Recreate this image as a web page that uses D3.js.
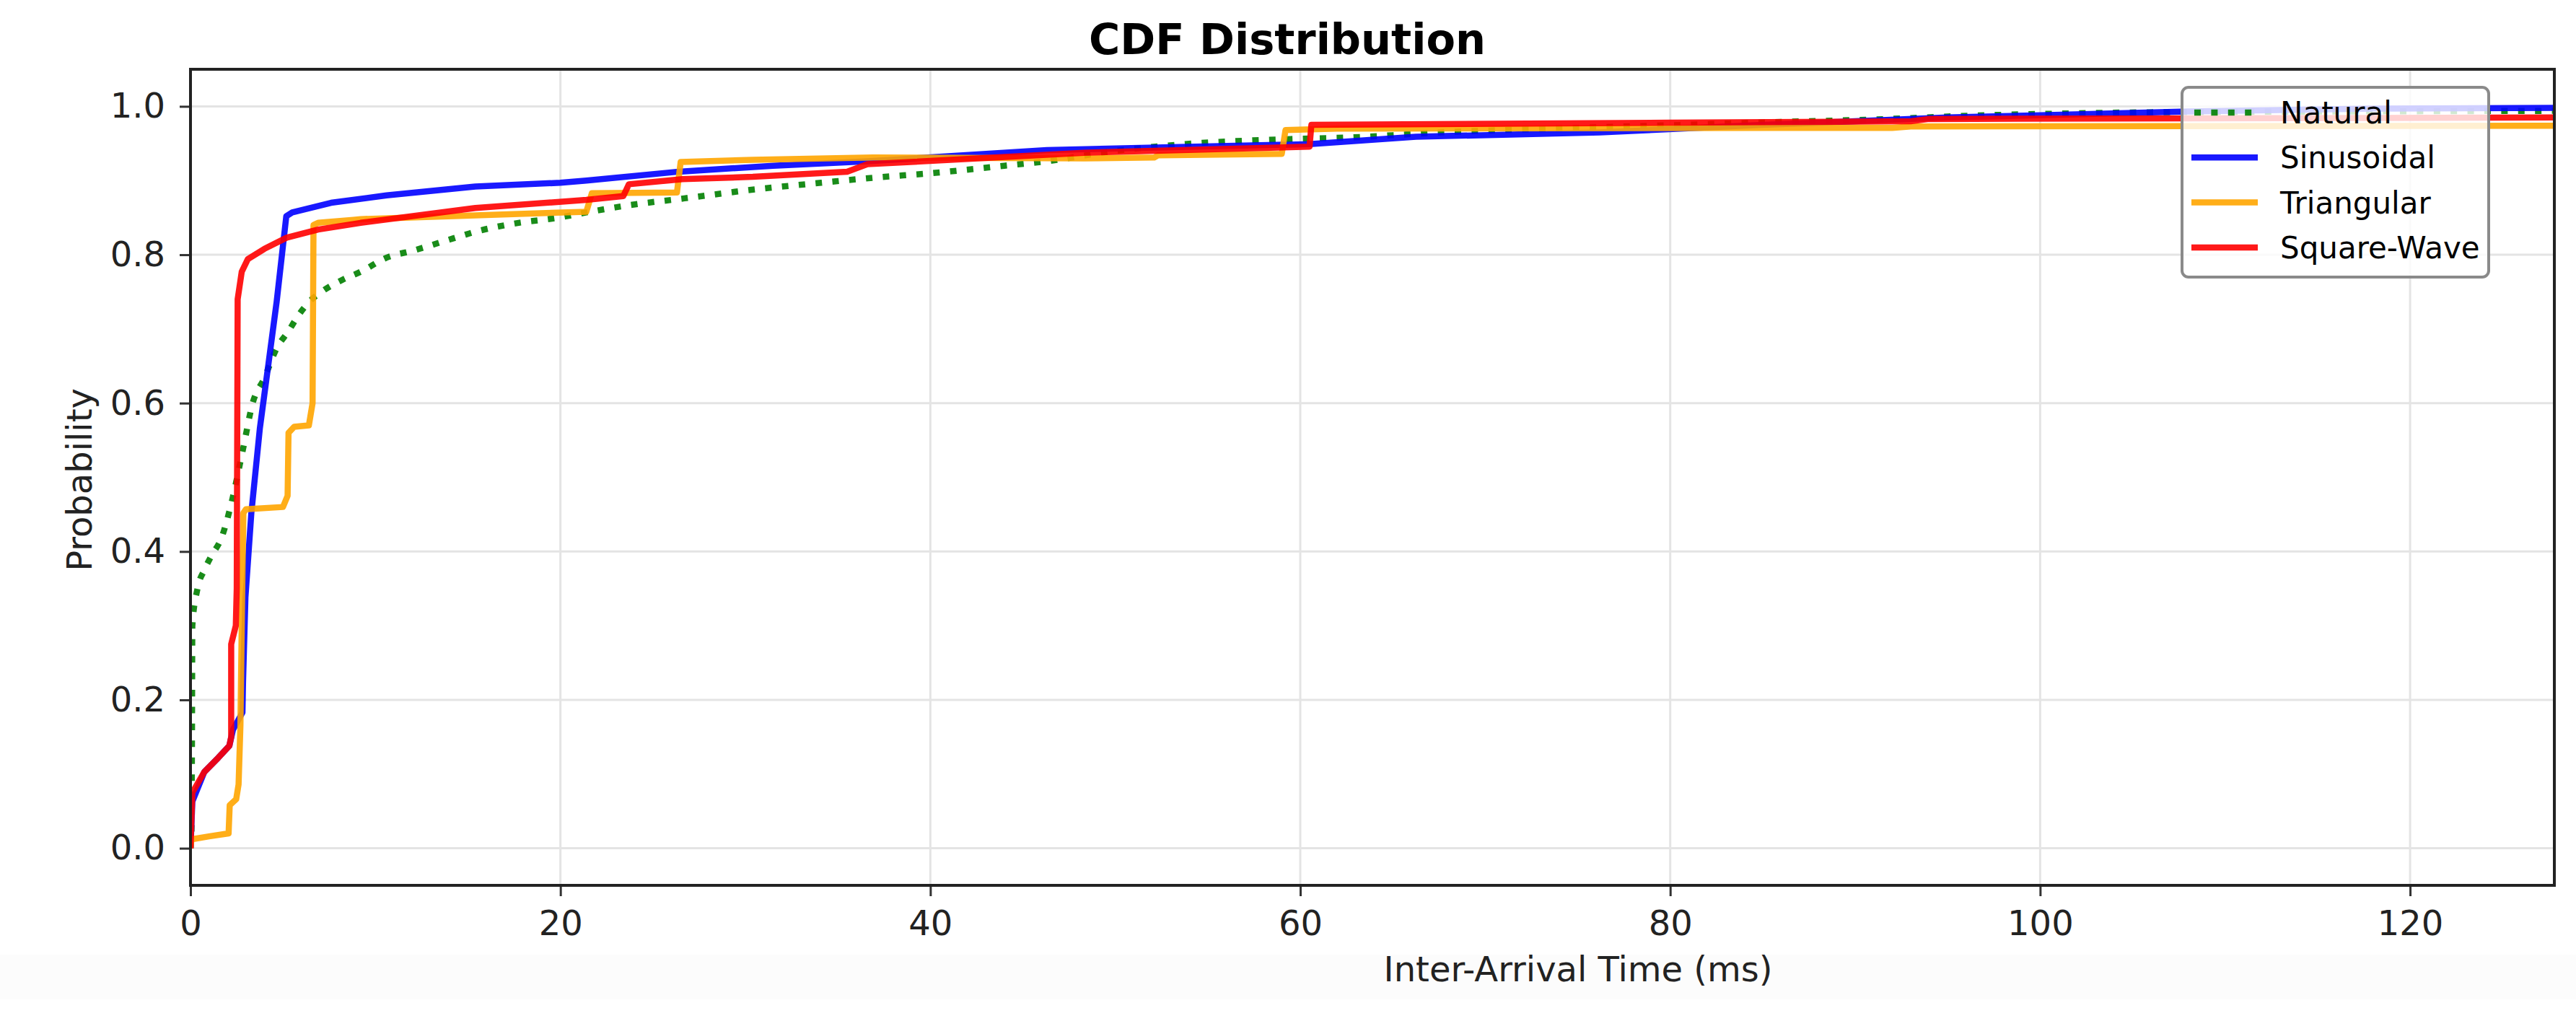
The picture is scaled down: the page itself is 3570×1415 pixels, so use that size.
<!DOCTYPE html>
<html>
<head>
<meta charset="utf-8">
<script src="https://cdn.jsdelivr.net/npm/d3@7"></script>
<style>
  body { margin: 0; background: #fff; }
  svg { display: block; font-family: "DejaVu Sans", sans-serif; }
</style>
</head>
<body>
<svg></svg>
<script>
// tick labels
var xTicks = [0, 20, 40, 60, 80, 100, 120];
var yTicks = [0.0, 0.2, 0.4, 0.6, 0.8, 1.0];

// series names, in draw order
var seriesNames = ["Natural", "Sinusoidal", "Triangular", "Square-Wave"];

// [inter-arrival time ms, cumulative probability]
var naturalPts = [[0, 0], [0.05, 0.02], [0.08, 0.15], [0.1, 0.3], [0.37, 0.349], [0.75, 0.375], [1.15, 0.395],
  [1.67, 0.418], [2.19, 0.463], [2.84, 0.538], [3.36, 0.6], [4.0, 0.634], [4.66, 0.674], [5.3, 0.697],
  [5.8, 0.717], [6.4, 0.736], [7.2, 0.752], [8.2, 0.766], [9.2, 0.777], [10.6, 0.796], [12.1, 0.806],
  [14.2, 0.822], [15.4, 0.831], [17.5, 0.842], [19.9, 0.85], [21.4, 0.857], [23.5, 0.866], [26.7, 0.876],
  [30.5, 0.888], [34.1, 0.897], [37, 0.904], [40.1, 0.91], [44, 0.92], [46.3, 0.926], [50, 0.94],
  [53.7, 0.949], [59.5, 0.956], [62.6, 0.958], [67.7, 0.965], [75, 0.971], [82, 0.976], [86, 0.979],
  [90.6, 0.982], [97, 0.988], [100.5, 0.99], [106, 0.992], [115, 0.993], [127.8, 0.994]];

var sinusoidalPts = [[0, 0], [0.1, 0.063], [0.75, 0.103], [1.5, 0.122], [2.1, 0.138], [2.3, 0.16],
  [2.81, 0.183], [2.84, 0.223], [2.97, 0.338], [3.29, 0.452], [3.75, 0.566], [4.21, 0.652], [4.66, 0.737],
  [5.18, 0.852], [5.5, 0.857], [7.6, 0.87], [10.6, 0.88], [15.4, 0.892], [20.0, 0.897], [21.4, 0.9],
  [26.4, 0.912], [31.5, 0.92], [36.6, 0.926], [46.3, 0.941], [53, 0.945], [60.5, 0.949], [66.25, 0.959],
  [76.2, 0.965], [85, 0.975], [90, 0.98], [95, 0.985], [100, 0.988], [108, 0.993], [118, 0.997], [127.8, 0.998]];

var triangularPts = [[0, 0], [0.05, 0.012], [1.0, 0.016], [2.06, 0.02], [2.12, 0.058], [2.47, 0.066],
  [2.6, 0.086], [2.7, 0.166], [2.79, 0.338], [2.86, 0.452], [3.0, 0.457], [5.0, 0.46], [5.25, 0.475],
  [5.3, 0.56], [5.6, 0.568], [6.4, 0.57], [6.6, 0.6], [6.65, 0.84], [6.9, 0.843], [8.8, 0.847], [9.2, 0.848],
  [15.4, 0.853], [21.4, 0.858], [21.7, 0.883], [26.3, 0.884], [26.5, 0.925], [30.4, 0.928], [36.9, 0.931],
  [48.3, 0.93], [52.1, 0.931], [52.3, 0.934], [59.0, 0.936], [59.2, 0.968], [62, 0.97], [85.4, 0.971],
  [92, 0.971], [93, 0.973], [127.8, 0.974]];

var squarePts = [[0, 0], [0.1, 0.075], [0.75, 0.103], [1.5, 0.122], [2.1, 0.138], [2.2, 0.15], [2.2, 0.275],
  [2.45, 0.3], [2.5, 0.35], [2.55, 0.74], [2.77, 0.777], [3.1, 0.794], [4.0, 0.808], [5.2, 0.823],
  [6.9, 0.834], [9.2, 0.843], [15.4, 0.863], [21.4, 0.874], [23.4, 0.879], [23.7, 0.895], [26.6, 0.902],
  [30.4, 0.905], [35.5, 0.912], [36.6, 0.922], [48.3, 0.9375], [60.5, 0.9457], [60.6, 0.975], [80, 0.978],
  [93, 0.98], [94, 0.983], [127.8, 0.985]];

var seriesData = [naturalPts, sinusoidalPts, triangularPts, squarePts];
var seriesColors = ["#008000", "#0000ff", "#ffa500", "#ff0000"];

var width = 3570, height = 1415;
var plotL = 264, plotR = 3540, plotT = 96, plotB = 1227;

var svg = d3.select("svg").attr("width", width).attr("height", height);

var xScale = d3.scaleLinear().domain([0, 127.8]).range([plotL, plotR]);
var yScale = d3.scaleLinear().domain([-0.05, 1.05]).range([plotB, plotT]);

// faint band at the bottom of the figure
svg.append("rect").attr("x", 0).attr("y", 1323).attr("width", width).attr("height", 62).attr("fill", "#fcfcfc");

// grid
var grid = svg.append("g");
grid.selectAll(".gx").data(xTicks).enter().append("line")
    .attr("x1", function(d) { return xScale(d); }).attr("x2", function(d) { return xScale(d); })
    .attr("y1", plotT).attr("y2", plotB)
    .attr("stroke", "#e4e4e4").attr("stroke-width", 3);
grid.selectAll(".gy").data(yTicks).enter().append("line")
    .attr("x1", plotL).attr("x2", plotR)
    .attr("y1", function(d) { return yScale(d); }).attr("y2", function(d) { return yScale(d); })
    .attr("stroke", "#e4e4e4").attr("stroke-width", 3);

svg.append("clipPath").attr("id", "plotclip").append("rect")
    .attr("x", plotL).attr("y", plotT).attr("width", plotR - plotL).attr("height", plotB - plotT);

// lines
var line = d3.line()
    .x(function(d) { return xScale(d[0]); })
    .y(function(d) { return yScale(d[1]); });
var smooth = d3.line()
    .x(function(d) { return xScale(d[0]); })
    .y(function(d) { return yScale(d[1]); })
    .curve(d3.curveMonotoneX);

var lines = svg.append("g").attr("clip-path", "url(#plotclip)");
seriesData.forEach(function(pts, i) {
    var p = lines.append("path")
        .attr("d", i == 0 ? smooth(pts) : line(pts))
        .attr("fill", "none")
        .attr("stroke", seriesColors[i])
        .attr("stroke-width", 8.5)
        .attr("stroke-opacity", 0.9)
        .attr("stroke-linejoin", "round");
    if (i == 0) p.attr("stroke-dasharray", "9,14.4");
});

// axes
var xAxis = svg.append("g")
    .attr("transform", "translate(0," + plotB + ")")
    .call(d3.axisBottom(xScale).tickValues(xTicks).tickSize(15).tickPadding(20).tickFormat(d3.format("d")));
var yAxis = svg.append("g")
    .attr("transform", "translate(" + plotL + ",0)")
    .call(d3.axisLeft(yScale).tickValues(yTicks).tickSize(15).tickPadding(20).tickFormat(d3.format(".1f")));
[xAxis, yAxis].forEach(function(a) {
    a.select(".domain").remove();
    a.selectAll("line").attr("stroke", "#333").attr("stroke-width", 3);
    a.selectAll("text").attr("fill", "#222").style("font-size", "48px").style("font-family", "DejaVu Sans");
});

// spines
svg.append("rect")
    .attr("x", plotL).attr("y", plotT).attr("width", plotR - plotL).attr("height", plotB - plotT)
    .attr("fill", "none").attr("stroke", "#222").attr("stroke-width", 4);

// labels
svg.append("text")
    .attr("x", 1784).attr("y", 75)
    .attr("text-anchor", "middle")
    .style("font-size", "59px").style("font-weight", "bold")
    .text("CDF Distribution");

svg.append("text")
    .attr("x", 2187).attr("y", 1360)
    .attr("text-anchor", "middle")
    .attr("fill", "#222")
    .style("font-size", "48px")
    .text("Inter-Arrival Time (ms)");

svg.append("text")
    .attr("transform", "translate(127,665) rotate(-90)")
    .attr("text-anchor", "middle")
    .attr("fill", "#222")
    .style("font-size", "48px")
    .text("Probability");

// legend
var legend = svg.append("g");
legend.append("rect")
    .attr("x", 3024).attr("y", 121).attr("width", 425).attr("height", 263)
    .attr("rx", 9)
    .attr("fill", "#fff").attr("fill-opacity", 0.8)
    .attr("stroke", "#8a8a8a").attr("stroke-width", 4);
var rows = legend.selectAll(".row").data(seriesNames).enter().append("g")
    .attr("transform", function(d, i) { return "translate(0," + (156 + i * 62.3) + ")"; });
rows.append("line")
    .attr("x1", function(d, i) { return i == 0 ? 3041 : 3037; })
    .attr("x2", function(d, i) { return i == 0 ? 3121 : 3129; })
    .attr("stroke", function(d, i) { return seriesColors[i]; })
    .attr("stroke-width", 8.5)
    .attr("stroke-opacity", 0.9)
    .attr("stroke-dasharray", function(d, i) { return i == 0 ? "9,14.4" : null; });
rows.append("text")
    .attr("x", 3160).attr("dy", "0.36em")
    .style("font-size", "42px")
    .text(function(d) { return d; });
</script>
</body>
</html>
